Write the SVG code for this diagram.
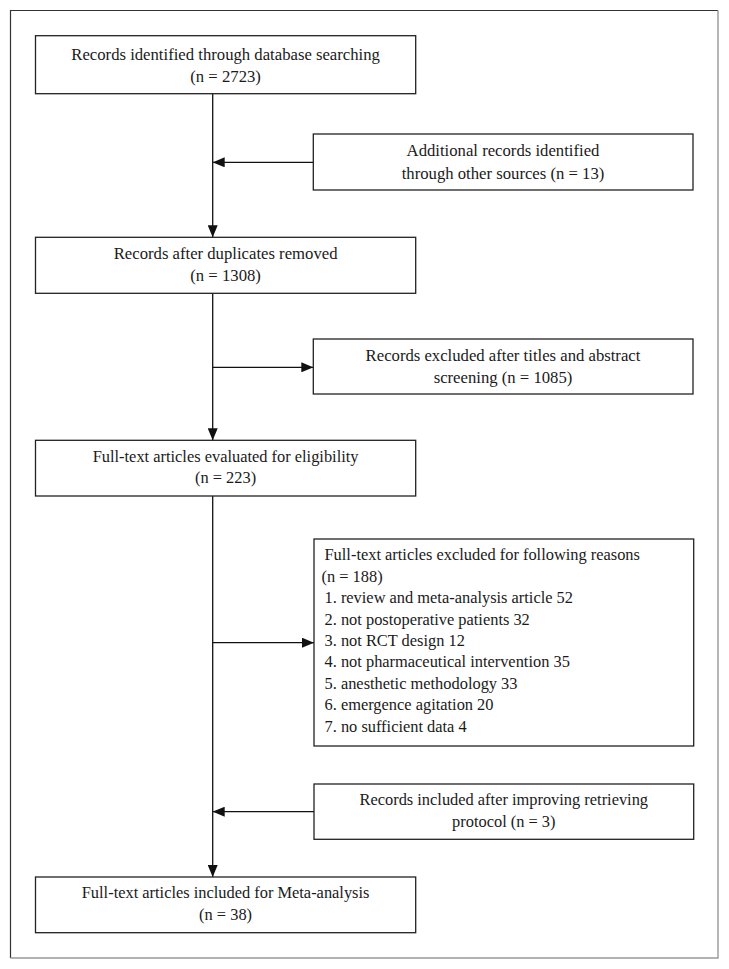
<svg xmlns="http://www.w3.org/2000/svg" width="729" height="969" viewBox="0 0 729 969">
<style>
.box{fill:#fff;stroke:#222;stroke-width:1.3}
.t{font-family:"Liberation Serif","Times New Roman",serif;font-size:16.7px;fill:#1a1a1a}
.s{font-size:16.4px}
.c{text-anchor:middle}
.ln{stroke:#111;stroke-width:1.3;fill:none}
</style>
<defs>
<marker id="ah" viewBox="0 0 12 10" refX="12" refY="5" markerWidth="12" markerHeight="10" markerUnits="userSpaceOnUse" orient="auto">
<path d="M0,0 L12,5 L0,10 Z" fill="#111"/>
</marker>
</defs>
<rect x="0" y="0" width="729" height="969" fill="#fff"/>
<path d="M10.5,958 V10.5 H718" fill="none" stroke="#333" stroke-width="1.2"/>
<path d="M718,10.5 V958 H10.5" fill="none" stroke="#999" stroke-width="1.4"/>
<g id="connectors">
<line class="ln" x1="212.7" y1="93.7" x2="212.7" y2="237.3" marker-end="url(#ah)"/>
<line class="ln" x1="313.3" y1="162.3" x2="212.7" y2="162.3" marker-end="url(#ah)"/>
<line class="ln" x1="212.7" y1="293.3" x2="212.7" y2="440.3" marker-end="url(#ah)"/>
<line class="ln" x1="212.7" y1="367.3" x2="313.3" y2="367.3" marker-end="url(#ah)"/>
<line class="ln" x1="212.7" y1="496" x2="212.7" y2="877" marker-end="url(#ah)"/>
<line class="ln" x1="212.7" y1="642.7" x2="314" y2="642.7" marker-end="url(#ah)"/>
<line class="ln" x1="314" y1="811.7" x2="212.7" y2="811.7" marker-end="url(#ah)"/>
</g>
<g id="n1">
<rect class="box" x="35.5" y="35.7" width="380.2" height="58"/>
<text class="t c" x="225.6" y="60">Records identified through database searching</text>
<text class="t c" x="225.6" y="82">(n = 2723)</text>
</g>
<g id="n2">
<rect class="box" x="313.3" y="134" width="379.7" height="56"/>
<text class="t c" x="503" y="156">Additional records identified</text>
<text class="t c" x="503" y="179">through other sources (n = 13)</text>
</g>
<g id="n3">
<rect class="box" x="35.5" y="237.3" width="380.2" height="56"/>
<text class="t c" x="225.6" y="259.3">Records after duplicates removed</text>
<text class="t c" x="225.6" y="280.5">(n = 1308)</text>
</g>
<g id="n4">
<rect class="box" x="313.3" y="339" width="379.7" height="55"/>
<text class="t c" x="503" y="360.7">Records excluded after titles and abstract</text>
<text class="t c" x="503" y="383">screening (n = 1085)</text>
</g>
<g id="n5">
<rect class="box" x="35.5" y="440.3" width="380.2" height="55.7"/>
<text class="t s c" x="225.6" y="461.7">Full-text articles evaluated for eligibility</text>
<text class="t s c" x="225.6" y="483.3">(n = 223)</text>
</g>
<g id="n6">
<rect class="box" x="314" y="539" width="379.7" height="207"/>
<text class="t s" x="324.5" y="560">Full-text articles excluded for following reasons</text>
<text class="t s" x="321.5" y="581.7">(n = 188)</text>
<text class="t s" x="324.5" y="603.3">1. review and meta-analysis article 52</text>
<text class="t s" x="324.5" y="624.7">2. not postoperative patients 32</text>
<text class="t s" x="324.5" y="646">3. not RCT design 12</text>
<text class="t s" x="324.5" y="667.4">4. not pharmaceutical intervention 35</text>
<text class="t s" x="324.5" y="688.8">5. anesthetic methodology 33</text>
<text class="t s" x="324.5" y="710.2">6. emergence agitation 20</text>
<text class="t s" x="324.5" y="731.6">7. no sufficient data 4</text>
</g>
<g id="n7">
<rect class="box" x="314" y="784" width="379.7" height="55.3"/>
<text class="t s c" x="503.8" y="805">Records included after improving retrieving</text>
<text class="t s c" x="503.8" y="826.7">protocol (n = 3)</text>
</g>
<g id="n8">
<rect class="box" x="35.5" y="877" width="380.2" height="55.7"/>
<text class="t s c" x="225.6" y="898.3">Full-text articles included for Meta-analysis</text>
<text class="t s c" x="225.6" y="920">(n = 38)</text>
</g>
</svg>
